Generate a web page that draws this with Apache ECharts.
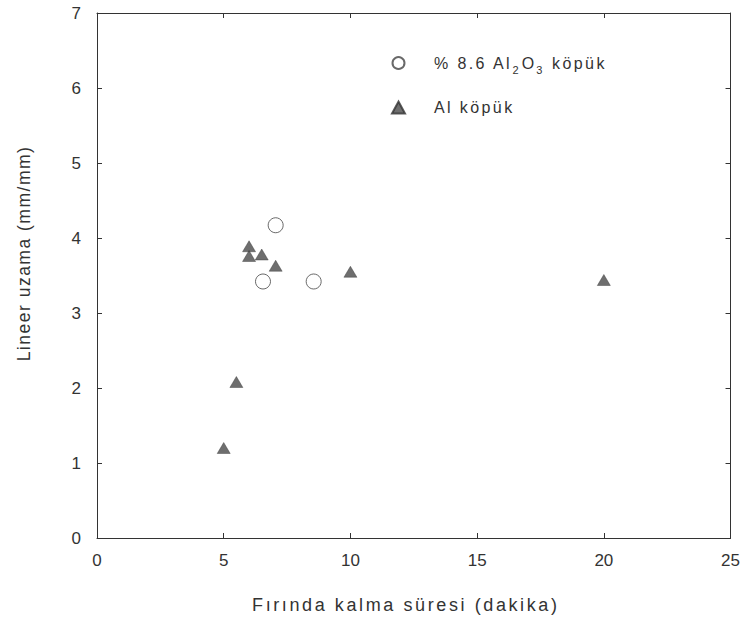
<!DOCTYPE html>
<html>
<head>
<meta charset="utf-8">
<script src="https://cdn.jsdelivr.net/npm/echarts@6/dist/echarts.min.js"></script>
<style>
  html, body { margin: 0; padding: 0; background: #fff; }
  #chart { width: 743px; height: 636px; }
  /* spaced-out lettering like the scanned figure (svg renderer) */
  #chart text[style*="18px"] { letter-spacing: 2.6px; }
  #chart text[style*="17.5px"] { letter-spacing: 1.5px; }
  #chart text[style*="16px"] { letter-spacing: 2.4px; }
</style>
</head>
<body>
<div id="chart"></div>
<script>
// % 8.6 Al2O3 köpük  [dakika, mm/mm]
var aluminaFoam = [[7.05, 4.17], [6.55, 3.42], [8.55, 3.42]];
// Al köpük
var alFoam = [
  [6.0, 3.89], [6.0, 3.76], [6.5, 3.78], [7.05, 3.63],
  [10.0, 3.55], [20.0, 3.44], [5.5, 2.08], [5.0, 1.2]
];
var xTicks = [0, 5, 10, 15, 20, 25];
var yTicks = [0, 1, 2, 3, 4, 5, 6, 7];

var ink = '#333';
var font = 'Liberation Sans';

var myChart = echarts.init(document.getElementById('chart'), null, { renderer: 'svg' });

function axisBase(extra) {
  return Object.assign({
    type: 'value',
    axisLine: { show: true, onZero: false, lineStyle: { color: ink, width: 1 } },
    axisTick: { show: true, inside: true, length: 5, lineStyle: { color: ink } },
    splitLine: { show: false }
  }, extra);
}

myChart.setOption({
  animation: false,
  backgroundColor: '#fff',
  textStyle: { fontFamily: font, color: ink },
  grid: { left: 97, right: 12, top: 13, bottom: 98 },
  legend: {
    orient: 'vertical',
    left: 386,
    top: 50,
    itemGap: 24,
    itemWidth: 13,
    itemHeight: 12,
    textStyle: {
      fontFamily: font, fontSize: 16, color: ink, padding: [0, 0, 0, 24],
      rich: {
        a: { fontFamily: font, fontSize: 16, color: ink, padding: [0, 19, 0, 0] },
        o: { fontFamily: font, fontSize: 16, color: ink, padding: [0, 2, 0, 0] },
        k: { fontFamily: font, fontSize: 16, color: ink },
        sub: { fontFamily: font, fontSize: 11, color: ink, padding: [14, 3, 0, 0] }
      }
    },
    formatter: function (name) {
      if (name === 'alumina') return '{a|% 8.6 Al}{sub|2}{o|O}{sub|3}{k| köpük}';
      return 'Al köpük';
    },
    data: ['alumina', 'al']
  },
  xAxis: [
    axisBase({
      min: xTicks[0], max: xTicks[xTicks.length - 1], interval: 5,
      position: 'bottom',
      name: 'Fırında kalma süresi (dakika)',
      nameLocation: 'middle',
      nameGap: 58,
      nameTextStyle: { fontFamily: font, fontSize: 18, color: ink, padding: [0, 16, 0, 0] },
      axisLabel: { fontFamily: font, fontSize: 17, color: ink, margin: 14 }
    }),
    axisBase({
      min: xTicks[0], max: xTicks[xTicks.length - 1], interval: 5,
      position: 'top',
      axisLabel: { show: false }
    })
  ],
  yAxis: [
    axisBase({
      min: yTicks[0], max: yTicks[yTicks.length - 1], interval: 1,
      position: 'left',
      name: 'Lineer uzama (mm/mm)',
      nameLocation: 'middle',
      nameGap: 64,
      nameTextStyle: { fontFamily: font, fontSize: 17.5, color: ink, padding: [0, 0, 0, 44] },
      axisLabel: { fontFamily: font, fontSize: 17, color: ink, margin: 16 }
    }),
    axisBase({
      min: yTicks[0], max: yTicks[yTicks.length - 1], interval: 1,
      position: 'right',
      axisLabel: { show: false }
    })
  ],
  series: [
    {
      name: 'alumina',
      type: 'scatter',
      data: aluminaFoam,
      symbol: 'circle',
      symbolSize: 15,
      itemStyle: { color: '#fff', borderColor: '#444', borderWidth: 1 }
    },
    {
      name: 'al',
      type: 'scatter',
      data: alFoam,
      symbol: 'triangle',
      symbolSize: [13, 11],
      itemStyle: { color: '#4a4a4a', borderColor: '#333', borderWidth: 0.5 }
    }
  ]
});
</script>
</body>
</html>
